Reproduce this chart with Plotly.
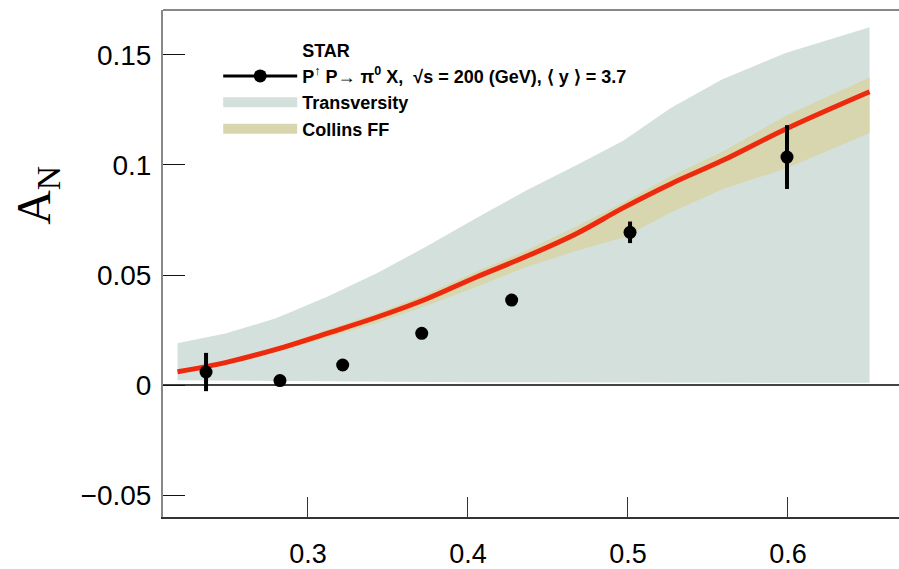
import plotly.graph_objects as go

# ---------------- data ----------------
# STAR data points
data_x = [0.2363, 0.2825, 0.3217, 0.3711, 0.4273, 0.5013, 0.5994]
data_y = [0.0059, 0.0020, 0.0091, 0.0235, 0.0386, 0.0694, 0.1036]
data_err = [0.0087, 0.0015, 0.0020, 0.0020, 0.0022, 0.0049, 0.0145]

# theory curves
theory_x = [0.2185, 0.249, 0.280, 0.312, 0.343, 0.374, 0.405, 0.437,
            0.468, 0.497, 0.527, 0.559, 0.599, 0.651]
central = [0.0060, 0.0103, 0.0162, 0.0235, 0.0308, 0.0391, 0.0490, 0.0586,
           0.0689, 0.0805, 0.0915, 0.1020, 0.1165, 0.1333]
transv_lo = [0.0022, 0.0020, 0.0018, 0.0016, 0.0015, 0.0014, 0.0013, 0.0012,
             0.0012, 0.0011, 0.0011, 0.0010, 0.0010, 0.0010]
transv_hi = [0.0190, 0.0235, 0.0303, 0.0401, 0.0508, 0.0629, 0.0758, 0.0886,
             0.1000, 0.1110, 0.1260, 0.1390, 0.1510, 0.1626]
collins_lo = [0.0052, 0.0093, 0.0148, 0.0215, 0.0282, 0.0360, 0.0445, 0.0538,
              0.0610, 0.0670, 0.0785, 0.0890, 0.0985, 0.1145]
collins_hi = [0.0066, 0.0111, 0.0173, 0.0249, 0.0326, 0.0412, 0.0515, 0.0614,
              0.0722, 0.0830, 0.0950, 0.1060, 0.1225, 0.1398]

x_ticks = [0.3, 0.4, 0.5, 0.6]
y_ticks = [-0.05, 0, 0.05, 0.1, 0.15]
y_tick_text = ["−0.05", "0", "0.05", "0.1", "0.15"]

legend_star = "<b>STAR</b>"
legend_data = "<b>P<sup>↑</sup> P→ π<sup>0</sup> X,  √s = 200 (GeV), ⟨ y ⟩ = 3.7</b>"
legend_transv = "<b>Transversity</b>"
legend_collins = "<b>Collins FF</b>"

GRAY = "#d3e0dc"
OLIVE = "#d7d6ae"
RED = "#ee2a0e"

fig = go.Figure()

# Transversity band
fig.add_trace(go.Scatter(x=theory_x, y=transv_lo, mode="lines",
                         line=dict(width=0, color=GRAY), showlegend=False,
                         hoverinfo="skip"))
fig.add_trace(go.Scatter(x=theory_x, y=transv_hi, mode="lines", fill="tonexty",
                         fillcolor=GRAY, line=dict(width=0, color=GRAY),
                         showlegend=False, hoverinfo="skip"))
# Collins band
fig.add_trace(go.Scatter(x=theory_x, y=collins_lo, mode="lines",
                         line=dict(width=0, color=OLIVE), showlegend=False,
                         hoverinfo="skip"))
fig.add_trace(go.Scatter(x=theory_x, y=collins_hi, mode="lines", fill="tonexty",
                         fillcolor=OLIVE, line=dict(width=0, color=OLIVE),
                         showlegend=False, hoverinfo="skip"))
# central curve
fig.add_trace(go.Scatter(x=theory_x, y=central, mode="lines",
                         line=dict(width=5, color=RED, shape="spline"),
                         showlegend=False))
# data
fig.add_trace(go.Scatter(x=data_x, y=data_y, mode="markers",
                         marker=dict(size=13, color="black"),
                         error_y=dict(type="data", array=data_err, width=0,
                                      thickness=4, color="black"),
                         showlegend=False))

# legend-only entries
fig.add_trace(go.Scatter(x=[None], y=[None], mode="lines", name=legend_star,
                         line=dict(width=0, color="rgba(0,0,0,0)")))
fig.add_trace(go.Scatter(x=[None], y=[None], mode="lines+markers", name=legend_data,
                         line=dict(width=3, color="black"),
                         marker=dict(size=13, color="black")))
fig.add_trace(go.Scatter(x=[None], y=[None], mode="lines", name=legend_transv,
                         line=dict(width=16, color=GRAY)))
fig.add_trace(go.Scatter(x=[None], y=[None], mode="lines", name=legend_collins,
                         line=dict(width=16, color=OLIVE)))

fig.add_annotation(text="A<sub>N</sub>", xref="paper", yref="paper",
                   x=-0.215, y=0.635, showarrow=False, textangle=-90,
                   font=dict(family="Liberation Serif, Times New Roman, serif",
                             size=48, color="black"))

# top frame line
fig.add_shape(type="line", xref="paper", yref="paper", x0=0, x1=1, y0=1, y1=1,
              line=dict(color="#888888", width=2))

fig.update_layout(
    width=899, height=569,
    margin=dict(l=163, r=0, t=10, b=52),
    plot_bgcolor="white", paper_bgcolor="white",
    font=dict(family="Liberation Sans, Arial, sans-serif", color="black"),
    showlegend=True,
    legend=dict(x=0.075, y=0.958, xanchor="left", yanchor="top",
                traceorder="normal",
                bgcolor="rgba(0,0,0,0)", itemwidth=74, tracegroupgap=0,
                font=dict(family="Liberation Sans, Arial, sans-serif",
                          size=18, color="black"),
                itemclick=False),
    xaxis=dict(range=[0.2094, 0.6694], tickvals=x_ticks,
               ticktext=[str(v) for v in x_ticks],
               ticks="inside", ticklen=20, tickwidth=1.2, tickcolor="#333",
               showline=True, linecolor="#333", linewidth=1.5,
               showgrid=False, zeroline=False, ticklabelstandoff=12,
               tickfont=dict(size=27)),
    yaxis=dict(range=[-0.06, 0.17045], tickvals=y_ticks,
               ticktext=y_tick_text,
               ticks="inside", ticklen=22, tickwidth=1.2, tickcolor="#111",
               showline=True, linecolor="#888", linewidth=2,
               showgrid=False, zeroline=True, zerolinecolor="#444",
               zerolinewidth=1.5, ticklabelstandoff=4,
               tickfont=dict(size=28)),
)

fig.write_html("out.html")
